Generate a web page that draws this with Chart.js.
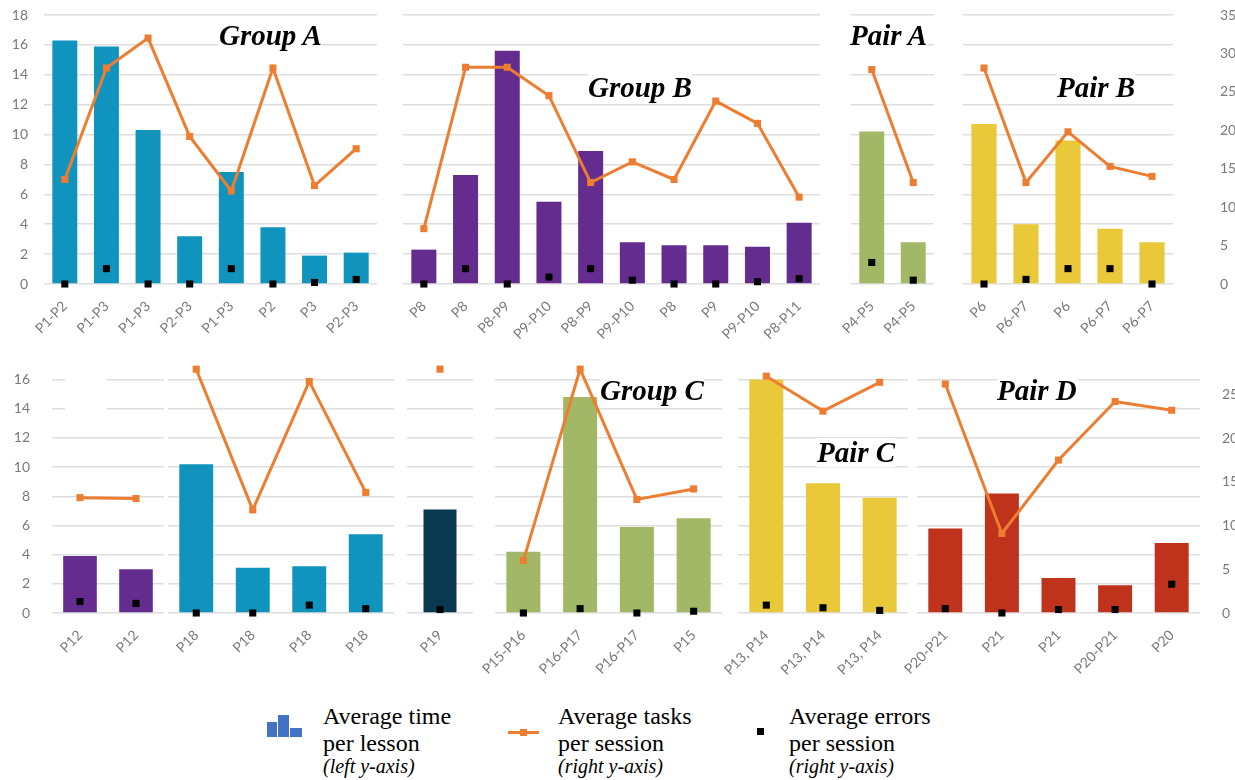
<!DOCTYPE html>
<html>
<head>
<meta charset="utf-8">
<script src="https://cdn.jsdelivr.net/npm/chart.js@4.4.1/dist/chart.umd.min.js"></script>
<style>
  body { margin: 0; background: #fff; }
  #page { position: relative; width: 1235px; height: 780px; overflow: hidden; background: #fff; }
  #page canvas { position: absolute; }
  .title { position: absolute; font: bold italic 29px "Liberation Serif", serif; line-height: 29px; color: #000; background: #fff; white-space: nowrap; }
  .lg { position: absolute; font-family: "Liberation Serif", serif; color: #000; white-space: nowrap; }
  .lg.main { font-size: 24px; line-height: 24px; }
  .lg.note { font-size: 20px; line-height: 20px; font-style: italic; }
  .icon { position: absolute; }
</style>
</head>
<body>
<div id="page">
  <div class="icon" style="left:267px;top:722px;width:10px;height:15px;background:#4472c4"></div>
  <div class="icon" style="left:278px;top:715px;width:11px;height:22px;background:#4472c4"></div>
  <div class="icon" style="left:290px;top:728px;width:12px;height:9px;background:#4472c4"></div>
  <div class="lg main" style="left:323px;top:704px">Average time</div>
  <div class="lg main" style="left:323px;top:731px">per lesson</div>
  <div class="lg note" style="left:323px;top:756px">(left y-axis)</div>

  <div class="icon" style="left:508px;top:731px;width:31px;height:3px;background:#ed7d31"></div>
  <div class="icon" style="left:520px;top:729px;width:7px;height:7px;background:#ed7d31"></div>
  <div class="lg main" style="left:558px;top:704px">Average tasks</div>
  <div class="lg main" style="left:558px;top:731px">per session</div>
  <div class="lg note" style="left:558px;top:756px">(right y-axis)</div>

  <div class="icon" style="left:757px;top:728px;width:7px;height:7px;background:#000"></div>
  <div class="lg main" style="left:789px;top:704px">Average errors</div>
  <div class="lg main" style="left:789px;top:731px">per session</div>
  <div class="lg note" style="left:789px;top:756px">(right y-axis)</div>
</div>
<script>
// top row
const groupALabels = ["P1-P2", "P1-P3", "P1-P3", "P2-P3", "P1-P3", "P2", "P3", "P2-P3"]
const groupATime = [16.3, 15.9, 10.3, 3.2, 7.5, 3.8, 1.9, 2.1]
const groupATasks = [13.6, 28.1, 32.0, 19.2, 12.1, 28.1, 12.8, 17.6]
const groupAErrors = [0, 2.0, 0, 0, 2.0, 0, 0.2, 0.6]

const groupBLabels = ["P8", "P8", "P8-P9", "P9-P10", "P8-P9", "P9-P10", "P8", "P9", "P9-P10", "P8-P11"]
const groupBTime = [2.3, 7.3, 15.6, 5.5, 8.9, 2.8, 2.6, 2.6, 2.5, 4.1]
const groupBTasks = [7.2, 28.2, 28.2, 24.5, 13.2, 15.9, 13.6, 23.8, 20.9, 11.3]
const groupBErrors = [0, 2.0, 0, 0.9, 2.0, 0.5, 0, 0, 0.3, 0.7]

const pairALabels = ["P4-P5", "P4-P5"]
const pairATime = [10.2, 2.8]
const pairATasks = [27.9, 13.2]
const pairAErrors = [2.8, 0.5]

const pairBLabels = ["P6", "P6-P7", "P6", "P6-P7", "P6-P7"]
const pairBTime = [10.7, 4.0, 9.6, 3.7, 2.8]
const pairBTasks = [28.1, 13.2, 19.8, 15.3, 14.0]
const pairBErrors = [0, 0.6, 2.0, 2.0, 0]

// bottom row
const p12Labels = ["P12", "P12"]
const p12Time = [3.9, 3.0]
const p12Tasks = [13.2, 13.1]
const p12Errors = [1.3, 1.1]

const p18Labels = ["P18", "P18", "P18", "P18"]
const p18Time = [10.2, 3.1, 3.2, 5.4]
const p18Tasks = [27.9, 11.8, 26.5, 13.8]
const p18Errors = [0, 0, 0.9, 0.5]

const p19Labels = ["P19"]
const p19Time = [7.1]
const p19Tasks = [27.9]
const p19Errors = [0.4]

const groupCLabels = ["P15-P16", "P16-P17", "P16-P17", "P15"]
const groupCTime = [4.2, 14.8, 5.9, 6.5]
const groupCTasks = [6.0, 27.9, 13.0, 14.2]
const groupCErrors = [0, 0.5, 0, 0.2]

const pairCLabels = ["P13, P14", "P13, P14", "P13, P14"]
const pairCTime = [16.0, 8.9, 7.9]
const pairCTasks = [27.1, 23.1, 26.4]
const pairCErrors = [0.9, 0.6, 0.3]

const pairDLabels = ["P20-P21", "P21", "P21", "P20-P21", "P20"]
const pairDTime = [5.8, 8.2, 2.4, 1.9, 4.8]
const pairDTasks = [26.2, 9.1, 17.5, 24.2, 23.2]
const pairDErrors = [0.5, 0, 0.4, 0.4, 3.3]

// axis ticks
const topLeftTicks = [0, 2, 4, 6, 8, 10, 12, 14, 16, 18]
const topRightTicks = [0, 5, 10, 15, 20, 25, 30, 35]
const bottomLeftTicks = [0, 2, 4, 6, 8, 10, 12, 14, 16]
const bottomRightTicks = [0, 5, 10, 15, 20, 25]

const TEAL = "#1093bc"
const PURPLE = "#652c8f"
const GREEN = "#a2b866"
const YELLOW = "#e9c93a"
const RED = "#bf321b"
const NAVY = "#0a3850"
const ORANGE = "#ed7d31"
const GRID = "#dedede"
const TICK = "#7a7a7a"

const PAD_L = 60
const PAD_R = 70
const PAD_T = 10
const AXIS_H = 70

const topRow = { top: 15, bottom: 284, leftMax: 18, rightMax: 35, leftTicks: topLeftTicks, rightTicks: topRightTicks, leftPad: 16, rightPad: 47 }
const bottomRow = { top: 365.4, bottom: 614, leftMax: 17, rightMax: 28.38, leftTicks: bottomLeftTicks, rightTicks: bottomRightTicks, leftPad: 22, rightPad: 22 }

const panels = [
  { row: topRow, left: 44, right: 377, labels: groupALabels, time: groupATime, tasks: groupATasks, errors: groupAErrors, color: TEAL, first: true },
  { row: topRow, left: 403, right: 820, labels: groupBLabels, time: groupBTime, tasks: groupBTasks, errors: groupBErrors, color: PURPLE },
  { row: topRow, left: 851, right: 934, labels: pairALabels, time: pairATime, tasks: pairATasks, errors: pairAErrors, color: GREEN },
  { row: topRow, left: 963, right: 1173, labels: pairBLabels, time: pairBTime, tasks: pairBTasks, errors: pairBErrors, color: YELLOW, last: true },
  { row: bottomRow, left: 52, right: 164, labels: p12Labels, time: p12Time, tasks: p12Tasks, errors: p12Errors, color: PURPLE, first: true },
  { row: bottomRow, left: 168, right: 394, labels: p18Labels, time: p18Time, tasks: p18Tasks, errors: p18Errors, color: TEAL },
  { row: bottomRow, left: 407, right: 473, labels: p19Labels, time: p19Time, tasks: p19Tasks, errors: p19Errors, color: NAVY, barPct: 0.5 },
  { row: bottomRow, left: 495, right: 722, labels: groupCLabels, time: groupCTime, tasks: groupCTasks, errors: groupCErrors, color: GREEN },
  { row: bottomRow, left: 738, right: 908, labels: pairCLabels, time: pairCTime, tasks: pairCTasks, errors: pairCErrors, color: YELLOW },
  { row: bottomRow, left: 917, right: 1200, labels: pairDLabels, time: pairDTime, tasks: pairDTasks, errors: pairDErrors, color: RED, last: true },
]

const titles = [
  { text: "Group A", x: 219, y: 45 },
  { text: "Group B", x: 588, y: 97 },
  { text: "Pair A", x: 850, y: 45 },
  { text: "Pair B", x: 1057, y: 97 },
  { text: "Group C", x: 600, y: 400 },
  { text: "Pair C", x: 817, y: 462 },
  { text: "Pair D", x: 997, y: 400 },
]

const page = document.getElementById("page")

// keep the plot area exactly where the layout says
function noPadding(s) {
  s.paddingTop = 0
  s.paddingBottom = 0
  s.paddingLeft = 0
  s.paddingRight = 0
}

function makePanel(p) {
  const r = p.row
  const canvas = document.createElement("canvas")
  canvas.width = p.right - p.left + PAD_L + PAD_R
  canvas.height = r.bottom - r.top + PAD_T + AXIS_H
  canvas.style.left = p.left - PAD_L + "px"
  canvas.style.top = r.top - PAD_T + "px"
  page.appendChild(canvas)

  const tickFont = { family: "Lato", size: 14 }

  new Chart(canvas, {
    type: "bar",
    data: {
      labels: p.labels,
      datasets: [
        {
          type: "line",
          data: p.errors,
          yAxisID: "y1",
          showLine: false,
          pointStyle: "rect",
          pointRadius: 5,
          pointBorderWidth: 0,
          pointBackgroundColor: "#000",
          order: 0,
          clip: false,
        },
        {
          type: "line",
          data: p.tasks,
          yAxisID: "y1",
          borderColor: ORANGE,
          borderWidth: 3,
          pointStyle: "rect",
          pointRadius: 5,
          pointBorderWidth: 0,
          pointBackgroundColor: ORANGE,
          order: 1,
          clip: false,
        },
        {
          type: "bar",
          data: p.time,
          yAxisID: "y",
          backgroundColor: p.color,
          barPercentage: p.barPct || 0.6,
          categoryPercentage: 1,
          order: 2,
        },
      ],
    },
    options: {
      responsive: false,
      animation: false,
      events: [],
      layout: {
        padding: { left: p.first ? 0 : PAD_L, right: p.last ? 0 : PAD_R, top: PAD_T, bottom: 0 },
      },
      plugins: {
        legend: { display: false },
        tooltip: { enabled: false },
      },
      scales: {
        x: {
          grid: { display: false },
          border: { display: false },
          ticks: { color: TICK, font: { family: "Lato", size: 14 }, minRotation: 45, maxRotation: 45, autoSkip: false, padding: 6 },
          afterFit: (s) => {
            s.height = AXIS_H
            noPadding(s)
          },
        },
        y: {
          position: "left",
          min: 0,
          max: r.leftMax,
          ticks: { display: !!p.first, color: TICK, font: tickFont, padding: r.leftPad },
          grid: { color: GRID, lineWidth: 1.5, drawTicks: false },
          border: { display: false },
          afterBuildTicks: (s) => { s.ticks = r.leftTicks.map((v) => ({ value: v })) },
          afterFit: (s) => {
            s.width = p.first ? PAD_L : 0
            noPadding(s)
          },
        },
        y1: {
          position: "right",
          display: !!p.last,
          min: 0,
          max: r.rightMax,
          ticks: { color: TICK, font: tickFont, padding: r.rightPad },
          grid: { drawOnChartArea: false, drawTicks: false },
          border: { display: false },
          afterBuildTicks: (s) => { s.ticks = r.rightTicks.map((v) => ({ value: v })) },
          afterFit: (s) => {
            s.width = p.last ? PAD_R : 0
            noPadding(s)
          },
        },
      },
    },
  })
}

panels.forEach(makePanel)

// blank box that breaks the top grid lines of the P12 panel
const blank = document.createElement("div")
blank.style.cssText = "position:absolute;left:65px;top:371px;width:42px;height:44px;background:#fff"
page.appendChild(blank)

titles.forEach((t) => {
  const el = document.createElement("div")
  el.className = "title"
  el.textContent = t.text
  el.style.left = t.x + "px"
  el.style.top = t.y - 24 + "px"
  page.appendChild(el)
})
</script>
</body>
</html>
